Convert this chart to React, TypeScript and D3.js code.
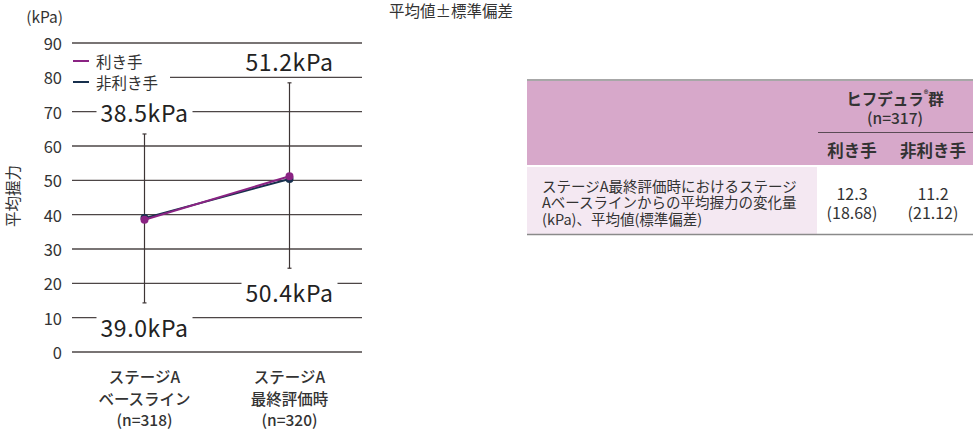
import * as d3 from 'd3';

const categories = ['baseline', 'final'];
const categoryLabels = [
  ['ステージA', 'ベースライン', '(n=318)'],
  ['ステージA', '最終評価時', '(n=320)'],
];
const dominantMeans = [38.5, 51.2];
const dominantSD = [25.0, 27.2];
const nonDominantMeans = [39.0, 50.4];
const nonDominantSD = [24.7, 26.0];
const yTicks = [0, 10, 20, 30, 40, 50, 60, 70, 80, 90];
const seriesNames = ['利き手', '非利き手'];
const tableRowLabel = [
  'ステージA最終評価時におけるステージ',
  'Aベースラインからの平均握力の変化量',
  '(kPa)、平均値(標準偏差)',
];
const tableChange = ['12.3', '11.2'];
const tableChangeSD = ['(18.68)', '(21.12)'];

const PURPLE = '#8a2383';
const NAVY = '#17304d';
const GRID = '#4d4646';
const TEXT = '#333';
const FONT = '"Noto Sans CJK JP", "Noto Sans", sans-serif';

export default function App() {
  const width = 973;
  const height = 431;
  const plot = { left: 72, right: 362, top: 43, bottom: 352 };

  const x = d3.scalePoint<string>().domain(categories).range([plot.left, plot.right]).padding(0.5);
  const y = d3.scaleLinear().domain([0, 90]).range([plot.bottom, plot.top]);

  const line = d3
    .line<number>()
    .x((_, i) => x(categories[i]) ?? 0)
    .y((d) => y(d));

  const labelW = 96;
  const labelH = 24;
  const colX = [852, 933];

  return (
    <svg width={width} height={height} style={{ position: 'absolute', left: 0, top: 0 }} fontFamily={FONT}>
      <rect width={width} height={height} fill="#fff" />
      <text x={451} y={10} fontSize={15.5} fill={TEXT} textAnchor="middle" dominantBaseline="central">
        平均値±標準偏差
      </text>

      {/* axis */}
      <text x={63} y={23} fontSize={15.5} fill={TEXT} textAnchor="end">
        (kPa)
      </text>
      <text transform="translate(15,196) rotate(-90)" fontSize={15.5} fill={TEXT} textAnchor="middle" dominantBaseline="middle">
        平均握力
      </text>
      {yTicks.map((t) => (
        <g key={t}>
          <line x1={plot.left} x2={plot.right} y1={y(t)} y2={y(t)} stroke={GRID} strokeWidth={1.3} />
          <text x={62} y={y(t)} fontSize={16.5} fill={TEXT} textAnchor="end" dominantBaseline="central">
            {t}
          </text>
        </g>
      ))}

      {/* category labels */}
      {categories.map((c, i) => (
        <text key={c} x={x(c)} fontSize={15.5} fontWeight={500} fill={TEXT} textAnchor="middle">
          {categoryLabels[i].map((l, j) => (
            <tspan key={j} x={x(c)} y={383 + j * 21.5}>
              {l}
            </tspan>
          ))}
        </text>
      ))}

      {/* legend */}
      <rect x={69} y={50} width={101} height={42} fill="#fff" />
      {[PURPLE, NAVY].map((col, i) => (
        <g key={i}>
          <line x1={73} x2={89} y1={61 + i * 21} y2={61 + i * 21} stroke={col} strokeWidth={2} />
          <text x={96} y={61 + i * 21} fontSize={15.5} fill={TEXT} dominantBaseline="central">
            {seriesNames[i]}
          </text>
        </g>
      ))}

      {/* error bars */}
      {categories.map((c, i) => {
        const cx = x(c) ?? 0;
        const top = y(dominantMeans[i] + dominantSD[i]);
        const bot = y(nonDominantMeans[i] - nonDominantSD[i]);
        return (
          <g key={c} stroke="#3d3535" strokeWidth={1.2}>
            <line x1={cx} x2={cx} y1={top} y2={bot} />
            <line x1={cx - 2} x2={cx + 2} y1={top} y2={top} />
            <line x1={cx - 2} x2={cx + 2} y1={bot} y2={bot} />
          </g>
        );
      })}

      {/* lines and points */}
      <path d={line(nonDominantMeans) ?? undefined} fill="none" stroke={NAVY} strokeWidth={2} />
      {nonDominantMeans.map((v, i) => (
        <circle key={i} cx={x(categories[i])} cy={y(v)} r={4} fill={NAVY} />
      ))}
      <path d={line(dominantMeans) ?? undefined} fill="none" stroke={PURPLE} strokeWidth={2} />
      {dominantMeans.map((v, i) => (
        <circle key={i} cx={x(categories[i])} cy={y(v)} r={4} fill={PURPLE} />
      ))}

      {/* value labels */}
      {categories.map((c, i) => {
        const cx = x(c) ?? 0;
        const topY = y(dominantMeans[i] + dominantSD[i]) - 22;
        const botY = y(nonDominantMeans[i] - nonDominantSD[i]) + 24;
        return (
          <g key={c}>
            <rect x={cx - labelW / 2} y={topY - labelH / 2} width={labelW} height={labelH} fill="#fff" />
            <text x={cx} y={topY} fontSize={23} letterSpacing={0.6} fill="#222" textAnchor="middle" dominantBaseline="central">
              {`${dominantMeans[i].toFixed(1)}kPa`}
            </text>
            <rect x={cx - labelW / 2} y={botY - labelH / 2} width={labelW} height={labelH} fill="#fff" />
            <text x={cx} y={botY} fontSize={23} letterSpacing={0.6} fill="#222" textAnchor="middle" dominantBaseline="central">
              {`${nonDominantMeans[i].toFixed(1)}kPa`}
            </text>
          </g>
        );
      })}

      {/* table */}
      <rect x={527} y={81} width={446} height={84} fill="#d7a8ca" />
      <rect x={527} y={167} width={290} height={67} fill="#f4e8f2" />
      <line x1={527} x2={973} y1={80} y2={80} stroke="#8a8a8a" strokeWidth={1.5} />
      <line x1={527} x2={973} y1={234.5} y2={234.5} stroke="#8a8a8a" strokeWidth={1.5} />
      <line x1={818} x2={973} y1={132.5} y2={132.5} stroke="#5a4a55" strokeWidth={1} />
      <text x={895} y={98} fontSize={15.5} fontWeight={700} fill={TEXT} textAnchor="middle" dominantBaseline="central">
        ヒフデュラ<tspan fontSize={9} dy={-4}>®</tspan>
        <tspan dy={4}>群</tspan>
      </text>
      <text x={895} y={117} fontSize={15.5} fontWeight={500} fill={TEXT} textAnchor="middle" dominantBaseline="central">
        (n=317)
      </text>
      {seriesNames.map((n, i) => (
        <text key={n} x={colX[i]} y={150} fontSize={16.5} fontWeight={700} fill={TEXT} textAnchor="middle" dominantBaseline="central">
          {n}
        </text>
      ))}
      {tableRowLabel.map((l, i) => (
        <text key={i} x={542} y={185 + i * 16.7} fontSize={14.5} fill={TEXT} dominantBaseline="central">
          {l}
        </text>
      ))}
      {tableChange.map((v, i) => (
        <text key={i} x={colX[i]} fontSize={16} fill={TEXT} textAnchor="middle" dominantBaseline="central">
          <tspan x={colX[i]} y={193}>
            {v}
          </tspan>
          <tspan x={colX[i]} y={212}>
            {tableChangeSD[i]}
          </tspan>
        </text>
      ))}
    </svg>
  );
}
